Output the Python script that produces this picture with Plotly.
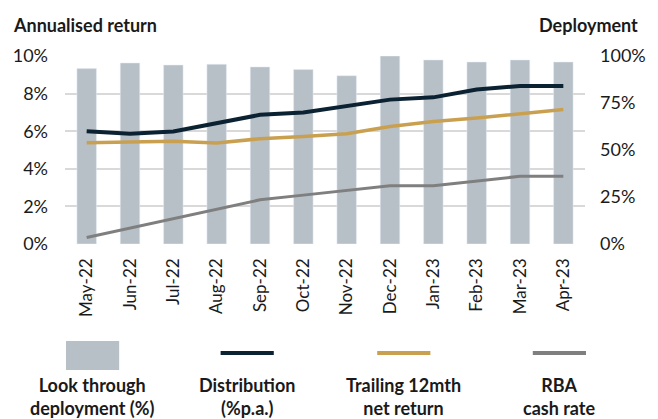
import plotly.graph_objects as go

months = ["May-22", "Jun-22", "Jul-22", "Aug-22", "Sep-22", "Oct-22",
          "Nov-22", "Dec-22", "Jan-23", "Feb-23", "Mar-23", "Apr-23"]
deployment = [93.3, 96.3, 95.2, 95.6, 94.2, 92.8, 89.5, 100.0, 97.9, 96.8, 97.9, 96.8]
distribution = [6.0, 5.86, 5.98, 6.4, 6.87, 7.0, 7.35, 7.68, 7.8, 8.22, 8.4, 8.4]
trailing = [5.39, 5.41, 5.47, 5.37, 5.6, 5.72, 5.86, 6.25, 6.51, 6.7, 6.95, 7.16]
rba = [0.35, 0.85, 1.35, 1.85, 2.35, 2.6, 2.85, 3.1, 3.1, 3.35, 3.6, 3.6]

left_ticks = [0, 2, 4, 6, 8, 10]
left_labels = ["0%", "2%", "4%", "6%", "8%", "10%"]
right_ticks = [0, 25, 50, 75, 100]
right_labels = ["0%", "25%", "50%", "75%", "100%"]

legend_names = ["Look through<br>deployment (%)", "Distribution<br>(%p.a.)",
                "Trailing 12mth<br>net return", "RBA<br>cash rate"]

BAR = "#b8c0c7"
NAVY = "#0b2233"
GOLD = "#c9a050"
GREY = "#7f7f7f"
FONT = "Lato"

fig = go.Figure()
fig.add_trace(go.Bar(x=months, y=deployment, marker_color=BAR, width=0.45,
                     yaxis="y", showlegend=False))
fig.add_trace(go.Scatter(x=months, y=rba, mode="lines", line=dict(color=GREY, width=3),
                         yaxis="y2", showlegend=False))
fig.add_trace(go.Scatter(x=months, y=trailing, mode="lines", line=dict(color=GOLD, width=3.5),
                         yaxis="y2", showlegend=False))
fig.add_trace(go.Scatter(x=months, y=distribution, mode="lines", line=dict(color=NAVY, width=4),
                         yaxis="y2", showlegend=False))

fig.update_layout(
    width=658, height=419,
    margin=dict(l=65, r=65, t=56, b=175),
    paper_bgcolor="white", plot_bgcolor="white",
    font=dict(family=FONT, size=18, color="#1a1a1a"),
    xaxis=dict(tickangle=-90, showgrid=False, ticks="", showline=False,
               tickfont=dict(size=17), ticklabelstandoff=10),
    yaxis=dict(side="right", range=[0, 100], tickvals=right_ticks, ticktext=right_labels,
               showgrid=False, zeroline=False, ticks="", ticklabelstandoff=14,
               tickfont=dict(size=18)),
    yaxis2=dict(side="left", overlaying="y", range=[0, 10], tickvals=left_ticks,
                ticktext=left_labels, showgrid=True, gridcolor="#d9d9d9", gridwidth=2,
                zeroline=False, ticks="", ticklabelstandoff=16,
                tickfont=dict(size=18)),
    bargap=0.55,
)

# axis titles
fig.add_annotation(text="<b>Annualised return</b>", xref="paper", yref="paper",
                   x=(10 - 65) / 528, y=(244 - 25) / 188, xanchor="left", yanchor="middle",
                   showarrow=False, font=dict(size=18))
fig.add_annotation(text="<b>Deployment</b>", xref="paper", yref="paper",
                   x=(649 - 65) / 528, y=(244 - 25) / 188, xanchor="right", yanchor="middle",
                   showarrow=False, font=dict(size=18))

# custom legend below chart (pixel positions converted to paper coords)
def px(xp):
    return (xp - 65) / 528

def py(yp):
    return (244 - yp) / 188

centers = [93, 250, 409, 567]
fig.add_shape(type="rect", xref="paper", yref="paper",
              x0=px(66), x1=px(120), y0=py(370), y1=py(341),
              fillcolor=BAR, line=dict(width=0))
for c, col in zip(centers[1:], [NAVY, GOLD, GREY]):
    fig.add_shape(type="line", xref="paper", yref="paper",
                  x0=px(c - 27), x1=px(c + 27), y0=py(353), y1=py(353),
                  line=dict(color=col, width=4))
for c, name in zip(centers, legend_names):
    fig.add_annotation(text="<b>" + name + "</b>", xref="paper", yref="paper",
                       x=px(c), y=py(396), xanchor="center", yanchor="middle",
                       showarrow=False, font=dict(size=18), align="center")

fig.write_html("out.html")
